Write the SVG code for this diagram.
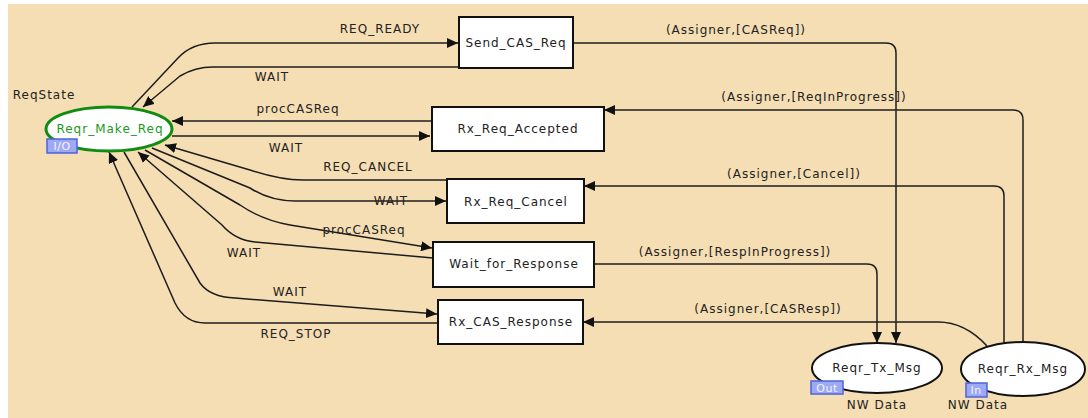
<svg xmlns="http://www.w3.org/2000/svg" width="1088" height="418" viewBox="0 0 1088 418">
<style>
text{font-family:"DejaVu Sans","Liberation Sans",sans-serif;font-size:12px;letter-spacing:1px;fill:#222;text-anchor:middle}
.box{fill:#fff;stroke:#111;stroke-width:2}
.pl{fill:#fff;stroke:#111;stroke-width:2}
.e{fill:none;stroke:#1c1c1c;stroke-width:1.5;marker-end:url(#ah)}
.n{fill:none;stroke:#1c1c1c;stroke-width:1.5}
.tag{fill:#9daaf2;stroke:#4f62e0;stroke-width:1.5}
.tagt{font-size:11px;fill:#f2f4ff;letter-spacing:0.5px}
.lbl{font-size:12px}
</style>
<defs>
<marker id="ah" markerUnits="userSpaceOnUse" markerWidth="12" markerHeight="10" refX="11" refY="5" orient="auto">
<path d="M0,0 L11,5 L0,10 z" fill="#111"/>
</marker>
</defs>
<rect x="0" y="0" width="1088" height="418" fill="#fff"/>
<rect x="8" y="4" width="1080" height="414" fill="#f5deb3"/>

<g id="connectors">
<g id="c-req-ready"><path class="e" d="M132,107 L178,58 Q192,43 215,43 L458,43"/><text x="380" y="33">REQ_READY</text></g>
<g id="c-wait1"><path class="e" d="M459,67 L213,67 Q195,67 180,76 L143,107"/><text x="272" y="81">WAIT</text></g>
<g id="c-proc1"><path class="e" d="M431,121 L172,121"/><text x="298" y="113">procCASReq</text></g>
<g id="c-wait2"><path class="e" d="M172,136 L430,136"/><text x="286" y="152">WAIT</text></g>
<g id="c-cancel"><path class="e" d="M447,180 L303,180 Q280,180 250,170 L165,145"/><text x="368" y="171">REQ_CANCEL</text></g>
<g id="c-wait3"><path class="e" d="M152,148 L250,188 Q270,201 295,201 L446,201"/><text x="391" y="205">WAIT</text></g>
<g id="c-proc2"><path class="e" d="M145,150 L240,205 Q262,220 290,225 L432,248"/><text x="364" y="234">procCASReq</text></g>
<g id="c-wait4"><path class="e" d="M433,258 L255,242 Q235,240 222,225 L138,152"/><text x="244" y="257">WAIT</text></g>
<g id="c-wait5"><path class="e" d="M124,152 L200,283 Q210,297 235,298 L437,314"/><text x="290" y="296">WAIT</text></g>
<g id="c-stop"><path class="e" d="M438,323 L205,323 Q185,323 175,303 L109,152"/><text x="296" y="338">REQ_STOP</text></g>
<g id="c-casreq"><path class="e" d="M573,43 L886,43 Q896,43 896,53 L896,343"/><text x="736" y="34">(Assigner,[CASReq])</text></g>
<g id="c-reqinprog"><path class="e" d="M1023,342 L1023,120 Q1023,110 1013,110 L604,110"/><text x="814" y="101">(Assigner,[ReqInProgress])</text></g>
<g id="c-cancelmsg"><path class="e" d="M1004,343 L1004,196 Q1004,186 994,186 L584,186"/><text x="794" y="178">(Assigner,[Cancel])</text></g>
<g id="c-respinprog"><path class="e" d="M594,264 L867,264 Q877,264 877,274 L877,343"/><text x="735" y="256">(Assigner,[RespInProgress])</text></g>
<g id="c-casresp"><path class="e" d="M987,346 Q965,322 938,322 L583,322"/><text x="768" y="313">(Assigner,[CASResp])</text></g>
</g>

<g id="Reqr_Make_Req">
<text x="44" y="99">ReqState</text>
<ellipse cx="109" cy="129" rx="63" ry="22" fill="#fff" stroke="#108c10" stroke-width="3"/>
<text x="110" y="133" style="fill:#1a9a1a">Reqr_Make_Req</text>
<rect class="tag" x="47" y="139" width="30" height="14"/>
<text class="tagt" x="62" y="150">I/O</text>
</g>
<g id="Send_CAS_Req"><rect class="box" x="459" y="17" width="114" height="51"/><text x="516" y="47">Send_CAS_Req</text></g>
<g id="Rx_Req_Accepted"><rect class="box" x="432" y="107" width="172" height="44"/><text x="518" y="133">Rx_Req_Accepted</text></g>
<g id="Rx_Req_Cancel"><rect class="box" x="447" y="179" width="137" height="44"/><text x="516" y="206">Rx_Req_Cancel</text></g>
<g id="Wait_for_Response"><rect class="box" x="433" y="242" width="161" height="45"/><text x="514" y="268">Wait_for_Response</text></g>
<g id="Rx_CAS_Response"><rect class="box" x="438" y="300" width="145" height="44"/><text x="511" y="326">Rx_CAS_Response</text></g>
<g id="Reqr_Tx_Msg">
<ellipse class="pl" cx="877" cy="368" rx="65" ry="25"/>
<text x="877" y="372">Reqr_Tx_Msg</text>
<rect class="tag" x="811" y="381" width="32" height="13"/>
<text class="tagt" x="827" y="392">Out</text>
<text x="877" y="409">NW Data</text>
</g>
<g id="Reqr_Rx_Msg">
<ellipse class="pl" cx="1023" cy="369" rx="62" ry="27"/>
<text x="1023" y="373">Reqr_Rx_Msg</text>
<rect class="tag" x="966" y="383" width="21" height="14"/>
<text class="tagt" x="976" y="394">In</text>
<text x="978" y="409">NW Data</text>
</g>
</svg>
